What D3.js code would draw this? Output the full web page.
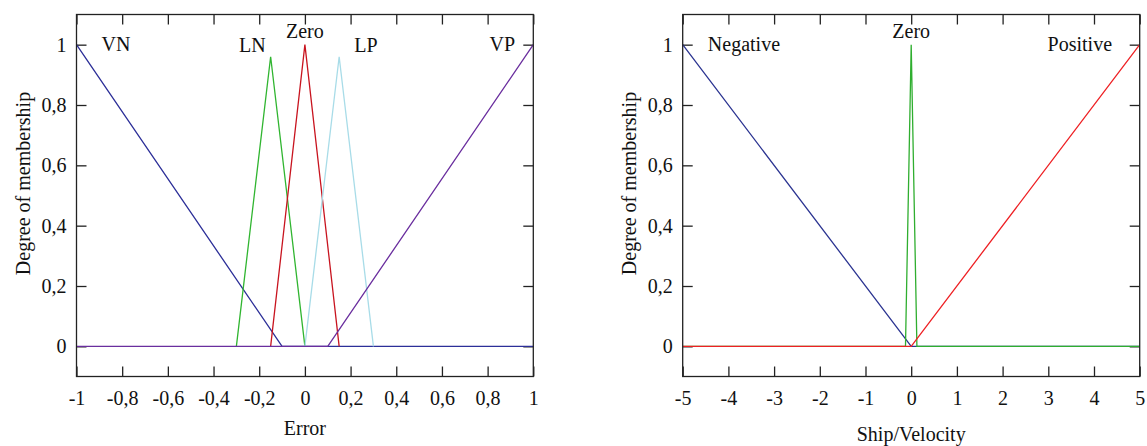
<!DOCTYPE html>
<html>
<head>
<meta charset="utf-8">
<script src="https://cdn.jsdelivr.net/npm/d3@7"></script>
<style>
  html, body { margin: 0; padding: 0; background: #fff; }
  svg { display: block; }
</style>
</head>
<body>
<svg id="chart" width="1147" height="446"></svg>
<script>
// ---- Error membership functions (left panel) ----
const errTicks = [-1, -0.8, -0.6, -0.4, -0.2, 0, 0.2, 0.4, 0.6, 0.8, 1];
const errTickLabels = ["-1", "-0,8", "-0,6", "-0,4", "-0,2", "0", "0,2", "0,4", "0,6", "0,8", "1"];
const memTicks = [0, 0.2, 0.4, 0.6, 0.8, 1];
const memTickLabels = ["0", "0,2", "0,4", "0,6", "0,8", "1"];

const errNames = ["VN", "LN", "Zero", "LP", "VP"];
const vnX = [-1, -0.1, 1];            const vnY = [1, 0, 0];
const lnX = [-0.3, -0.15, 0];         const lnY = [0, 0.96, 0];
const zeX = [-0.15, 0, 0.15];         const zeY = [0, 1, 0];
const lpX = [0, 0.15, 0.3];           const lpY = [0, 0.96, 0];
const vpX = [-1, 0.1, 1];             const vpY = [0, 0, 1];

// ---- Ship velocity membership functions (right panel) ----
const velTicks = [-5, -4, -3, -2, -1, 0, 1, 2, 3, 4, 5];
const velTickLabels = ["-5", "-4", "-3", "-2", "-1", "0", "1", "2", "3", "4", "5"];
const velNames = ["Negative", "Zero", "Positive"];
const negX = [-5, 0, 5];               const negY = [1, 0, 0];
const vzX = [-5, -0.125, 0, 0.125, 5]; const vzY = [0, 0, 1, 0, 0];
const posX = [-5, 0, 5];               const posY = [0, 0, 1];

const zip = (xs, ys) => xs.map((x, i) => ({x, y: ys[i]}));
const FONT = '"Liberation Serif", "DejaVu Serif", "Times New Roman", serif';

const panels = [
  {
    left: 76.5, right: 533.3, xDomain: [-1, 1],
    ticks: errTicks, tickLabels: errTickLabels,
    xTitle: "Error", xTitleY: 435, yTitleX: 30,
    series: [
      {name: errNames[0], pts: zip(vnX, vnY), color: "#2c2f98", lx: -0.827, ly: 51},
      {name: errNames[1], pts: zip(lnX, lnY), color: "#30b530", lx: -0.23,  ly: 51.5},
      {name: errNames[2], pts: zip(zeX, zeY), color: "#c8141f", lx: 0,      ly: 37.5},
      {name: errNames[3], pts: zip(lpX, lpY), color: "#a8dce8", lx: 0.267,  ly: 51.5},
      {name: errNames[4], pts: zip(vpX, vpY), color: "#6a2e9e", lx: 0.864,  ly: 51}
    ]
  },
  {
    left: 682.7, right: 1139.7, xDomain: [-5, 5],
    ticks: velTicks, tickLabels: velTickLabels,
    xTitle: "Ship/Velocity", xTitleY: 441, yTitleX: 636,
    series: [
      {name: velNames[0], pts: zip(negX, negY), color: "#2b3491", lx: -3.66, ly: 51},
      {name: velNames[1], pts: zip(vzX, vzY),   color: "#2fae2f", lx: 0,     ly: 37.5},
      {name: velNames[2], pts: zip(posX, posY), color: "#ee2024", lx: 3.69,  ly: 51}
    ]
  }
];

const svg = d3.select("#chart");
const plotTop = 14.5, plotBottom = 376.5, tickLen = 10;

function serif(sel) {
  return sel.style("font-family", FONT).style("font-size", "20px").style("fill", "#111");
}

panels.forEach(p => {
  const x = d3.scaleLinear().domain(p.xDomain).range([p.left, p.right]);
  const y = d3.scaleLinear().domain([-0.1, 1.1]).range([plotBottom, plotTop]);
  const g = svg.append("g");

  // inward ticks on all four sides, labels on bottom and left
  const xAxisB = d3.axisBottom(x).tickValues(p.ticks).tickSizeInner(-tickLen).tickSizeOuter(0)
    .tickPadding(14).tickFormat((d, i) => p.tickLabels[i]);
  const xAxisT = d3.axisTop(x).tickValues(p.ticks).tickSizeInner(-tickLen).tickSizeOuter(0)
    .tickFormat("");
  const yAxisL = d3.axisLeft(y).tickValues(memTicks).tickSizeInner(-tickLen).tickSizeOuter(0)
    .tickPadding(10).tickFormat((d, i) => memTickLabels[i]);
  const yAxisR = d3.axisRight(y).tickValues(memTicks).tickSizeInner(-tickLen).tickSizeOuter(0)
    .tickFormat("");

  const axes = [
    g.append("g").attr("transform", `translate(0,${plotBottom})`).call(xAxisB),
    g.append("g").attr("transform", `translate(0,${plotTop})`).call(xAxisT),
    g.append("g").attr("transform", `translate(${p.left},0)`).call(yAxisL),
    g.append("g").attr("transform", `translate(${p.right},0)`).call(yAxisR)
  ];
  axes.forEach(a => {
    a.attr("font-family", null).attr("font-size", null);
    a.select(".domain").remove();
    a.selectAll("line").attr("stroke", "#222").attr("stroke-width", 1.3);
    serif(a.selectAll("text"));
  });
  axes[0].selectAll("text").attr("dy", "0.71em").attr("y", 14);

  // membership curves
  const line = d3.line().x(d => x(d.x)).y(d => y(d.y));
  p.series.forEach(s => {
    g.append("path").datum(s.pts)
      .attr("d", line)
      .attr("fill", "none")
      .attr("stroke", s.color)
      .attr("stroke-width", 1.3)
      .attr("stroke-linejoin", "miter");
  });

  // curve names
  p.series.forEach(s => {
    serif(g.append("text")
      .attr("x", x(s.lx)).attr("y", s.ly)
      .attr("text-anchor", "middle"))
      .text(s.name);
  });

  // frame
  g.append("rect")
    .attr("x", p.left).attr("y", plotTop)
    .attr("width", p.right - p.left).attr("height", plotBottom - plotTop)
    .attr("fill", "none").attr("stroke", "#222").attr("stroke-width", 1.3);

  // axis titles
  serif(g.append("text")
    .attr("x", (p.left + p.right) / 2).attr("y", p.xTitleY)
    .attr("text-anchor", "middle"))
    .text(p.xTitle);
  serif(g.append("text")
    .attr("transform", `translate(${p.yTitleX},${(plotTop + plotBottom) / 2 - 12}) rotate(-90)`)
    .attr("text-anchor", "middle"))
    .text("Degree of membership");
});
</script>
</body>
</html>
